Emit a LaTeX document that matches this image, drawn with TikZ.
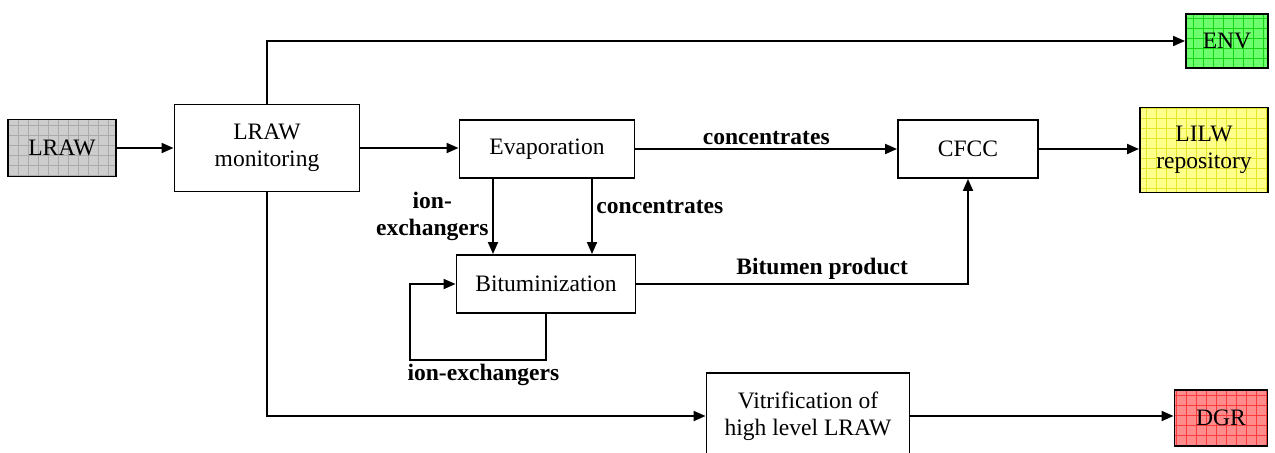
\documentclass[tikz,border=0pt]{standalone}
\usepackage{fontspec}
\setmainfont{Liberation Serif}
\usetikzlibrary{arrows.meta}

\definecolor{grayfill}{RGB}{205,205,205}
\definecolor{grayline}{RGB}{170,170,170}
\definecolor{envfill}{RGB}{110,255,110}
\definecolor{envline}{RGB}{20,215,20}
\definecolor{lilwfill}{RGB}{255,255,140}
\definecolor{lilwline}{RGB}{230,230,40}
\definecolor{dgrfill}{RGB}{255,140,140}
\definecolor{dgrline}{RGB}{250,60,60}

\tikzset{
  box/.style={draw, line width=1.1pt, align=center, inner sep=2pt},
  gridbox/.style 2 args={box, fill=#1,
    path picture={\draw[#2, line width=0.35pt, step=0.2cm]
      (path picture bounding box.south west) grid (path picture bounding box.north east);}},
  arr/.style={line width=1.1pt, -{Triangle[length=2.4mm,width=2mm]}},
  lbl/.style={font=\fontsize{13.4}{15.5}\selectfont\bfseries, inner sep=2pt}
}

\begin{document}
\begin{tikzpicture}[x=0.02cm, y=-0.02cm, font=\fontsize{13.4}{15.5}\selectfont]
        \useasboundingbox (0,0) rectangle (1275,453);

        % boxes
        \node[gridbox={grayfill}{grayline}, minimum width=2.16cm, minimum height=1.14cm] (lraw) at (62,148) {LRAW};
        \node[box, minimum width=3.7cm, minimum height=1.74cm] (mon) at (267,148) {LRAW\\monitoring};
        \node[box, minimum width=3.5cm, minimum height=1.16cm] (evap) at (547,149) {Evaporation};
        \node[box, minimum width=2.8cm, minimum height=1.16cm] (cfcc) at (968,149) {CFCC};
        \node[gridbox={lilwfill}{lilwline}, minimum width=2.56cm, minimum height=1.7cm] (lilw) at (1204,150) {LILW\\repository};
        \node[gridbox={envfill}{envline}, minimum width=1.64cm, minimum height=1.08cm] (env) at (1227,41) {ENV};
        \node[box, minimum width=3.58cm, minimum height=1.16cm] (bit) at (546,284) {Bituminization};
        \node[box, minimum width=4.06cm, minimum height=1.72cm] (vit) at (808,416) {Vitrification of\\high level LRAW};
        \node[gridbox={dgrfill}{dgrline}, minimum width=1.86cm, minimum height=1.12cm] (dgr) at (1221,418) {DGR};

        \coordinate (ionx) at (493,0);
        \coordinate (conx) at (592,0);
        \coordinate (loop) at (410,360);

        % connectors
        \draw[arr] (lraw) -- (mon);
        \draw[arr] (mon.east) -- (mon.east -| evap.west);
        \draw[arr] (evap) -- node[lbl, above] {concentrates} (cfcc);
        \draw[arr] (cfcc.east) -- (cfcc.east -| lilw.west);
        \draw[arr] (mon.north) |- (env.west);
        \draw[arr] (mon.south) |- (vit.west);
        \draw[arr] (vit.east) -- (vit.east -| dgr.west);

        \draw[arr] (ionx |- evap.south) -- node[lbl, left, align=center] {ion-\\exchangers} (ionx |- bit.north);
        \draw[arr] (conx |- evap.south) -- node[lbl, right, pos=0.37] {concentrates} (conx |- bit.north);
        \draw[arr] (bit.east) -| node[lbl, above, pos=0.28] {Bitumen product} (cfcc.south);
        \draw[arr] (bit.south) |- node[lbl, below, pos=0.73] {ion-exchangers} (loop) |- (bit.west);

    \end{tikzpicture}
\end{document}
